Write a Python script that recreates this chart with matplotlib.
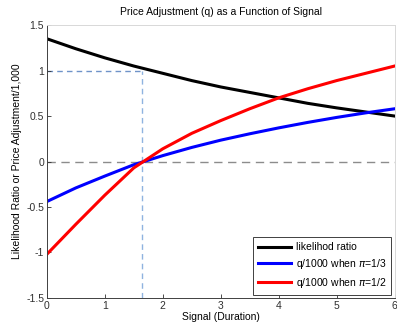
import numpy as np
import matplotlib.pyplot as plt

plt.rcParams['font.family'] = ['Liberation Sans', 'DejaVu Sans']
plt.rcParams['mathtext.fontset'] = 'dejavusans'

# signal grid and curves (q scaled by 1/1000)
signal = [0, 0.5, 1, 1.5, 2, 2.5, 3, 3.5, 4, 4.5, 5, 5.5, 6]
likelihood = [1.35, 1.24, 1.14, 1.05, 0.97, 0.89, 0.82, 0.76, 0.70, 0.64, 0.59, 0.545, 0.50]
q_third = [-0.44, -0.29, -0.16, -0.035, 0.065, 0.155, 0.235, 0.305, 0.37, 0.43, 0.485, 0.535, 0.58]
q_half = [-1.02, -0.69, -0.37, -0.07, 0.14, 0.31, 0.45, 0.58, 0.70, 0.80, 0.89, 0.97, 1.05]

# break-even signal where likelihood ratio is 1
x_star = 1.635

labels = ['likelihod ratio', r'q/1000 when $\pi$=1/3', r'q/1000 when $\pi$=1/2']

fig = plt.figure(figsize=(3.97, 3.26), dpi=100)
ax = fig.add_axes([0.118, 0.086, 0.876, 0.837])

ax.axhline(0, color='#8c8c8c', lw=1, ls=(0, (6, 4)), zorder=1)
ax.plot([0, x_star], [1, 1], color='#6f93c8', lw=1, ls=(0, (4, 3)), zorder=1)
ax.plot([x_star, x_star], [-1.5, 1], color='#8fb3e0', lw=1, ls=(0, (4, 3)), zorder=1)

ax.plot(signal, likelihood, color='black', lw=2.2, label=labels[0])
ax.plot(signal, q_third, color='#0000ff', lw=2.2, label=labels[1])
ax.plot(signal, q_half, color='#ff0000', lw=2.2, label=labels[2])

ax.set_xlim(0, 6)
ax.set_ylim(-1.5, 1.5)
ax.set_xticks(range(7))
ax.set_yticks([-1.5, -1, -0.5, 0, 0.5, 1, 1.5])
ax.set_yticklabels(['-1.5', '-1', '-0.5', '0', '0.5', '1', '1.5'])
ax.tick_params(direction='in', length=3, width=0.6, labelsize=7.5,
               colors='#303030', pad=2)

for s in ['left', 'bottom']:
    ax.spines[s].set_color('#404040')
    ax.spines[s].set_linewidth(0.7)
for s in ['top', 'right']:
    ax.spines[s].set_color('#d8d8d8')
    ax.spines[s].set_linewidth(0.7)

ax.set_title('Price Adjustment (q) as a Function of Signal', fontsize=7.5, pad=7)
ax.set_xlabel('Signal (Duration)', fontsize=7.5, labelpad=1)
ax.set_ylabel('Likelihood Ratio or Price Adjustment/1,000', fontsize=7.5, labelpad=3)

leg = ax.legend(loc='lower right', fontsize=7.5, handlelength=3.1, handletextpad=0.5,
                borderaxespad=0.3, labelspacing=0.45, fancybox=False, framealpha=1,
                borderpad=0.5)
leg.get_frame().set_edgecolor('#404040')
leg.get_frame().set_linewidth(0.7)

fig.savefig('out.png', dpi=100)
